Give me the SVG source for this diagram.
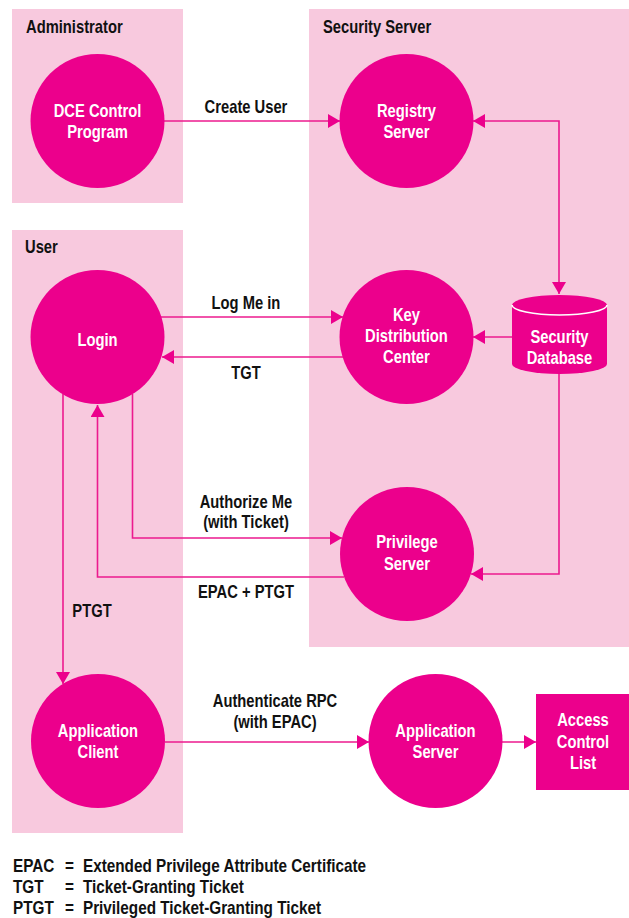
<svg xmlns="http://www.w3.org/2000/svg" width="629" height="918" viewBox="0 0 629 918">
  <style>
    .zone { fill: #F8C9DE; }
    .node { fill: #EC008C; }
    text { font-family: "Liberation Sans", Arial, sans-serif; font-weight: bold; font-size: 18px; }
    .zlabel { fill: #111; }
    .nlabel { fill: #fff; text-anchor: middle; }
    .elabel { fill: #111; text-anchor: middle; }
    .legend text { fill: #111; }
    .conn { fill: none; stroke: #EC1A8E; stroke-width: 1.6; }
  </style>
  <defs>
    <marker id="ah" viewBox="0 0 12 14" refX="12" refY="7" markerWidth="12" markerHeight="14" markerUnits="userSpaceOnUse" orient="auto-start-reverse">
      <path d="M0,0 L12,7 L0,14 z" fill="#EC008C"/>
    </marker>
  </defs>

  <!-- background -->
  <rect width="629" height="918" fill="#fff"/>

  <!-- zones (text groups are narrowed horizontally to a condensed face; x values are pre-divided by the scale) -->
  <g id="zone-administrator">
    <rect class="zone" x="12" y="9" width="171" height="194"/>
    <g transform="scale(0.82 1)"><text class="zlabel" x="31.7" y="33">Administrator</text></g>
  </g>
  <g id="zone-security-server">
    <rect class="zone" x="309" y="9" width="320" height="638"/>
    <g transform="scale(0.82 1)"><text class="zlabel" x="393.9" y="33">Security Server</text></g>
  </g>
  <g id="zone-user">
    <rect class="zone" x="12" y="230" width="171" height="603"/>
    <g transform="scale(0.82 1)"><text class="zlabel" x="30.5" y="253">User</text></g>
  </g>

  <!-- connectors -->
  <g id="connectors">
    <path class="conn" d="M164,121 H340" marker-end="url(#ah)"/>
    <path class="conn" d="M473,121 H559 V294" marker-start="url(#ah)" marker-end="url(#ah)"/>
    <path class="conn" d="M161,317 H343" marker-end="url(#ah)"/>
    <path class="conn" d="M343,357 H162" marker-end="url(#ah)"/>
    <path class="conn" d="M512,337 H473" marker-end="url(#ah)"/>
    <path class="conn" d="M559,374 V574 H471" marker-end="url(#ah)"/>
    <path class="conn" d="M132.5,394 V538 H342" marker-end="url(#ah)"/>
    <path class="conn" d="M344,577 H97.5 V405" marker-end="url(#ah)"/>
    <path class="conn" d="M63,394 V684" marker-end="url(#ah)"/>
    <path class="conn" d="M165,742 H369" marker-end="url(#ah)"/>
    <path class="conn" d="M502,742 H536" marker-end="url(#ah)"/>

    <g transform="scale(0.82 1)">
      <text class="elabel" x="300" y="113">Create User</text>
      <text class="elabel" x="300" y="309">Log Me in</text>
      <text class="elabel" x="300" y="379">TGT</text>
      <text class="elabel" x="300" y="508">Authorize Me</text>
      <text class="elabel" x="300" y="528">(with Ticket)</text>
      <text class="elabel" x="300" y="598">EPAC + PTGT</text>
      <text class="elabel" x="112.2" y="617">PTGT</text>
      <text class="elabel" x="335.4" y="707">Authenticate RPC</text>
      <text class="elabel" x="335.4" y="728">(with EPAC)</text>
    </g>
  </g>

  <!-- nodes -->
  <g id="dce-control-program">
    <circle class="node" cx="97.5" cy="121" r="67"/>
    <g transform="scale(0.82 1)">
      <text class="nlabel" x="118.9" y="117">DCE Control</text>
      <text class="nlabel" x="118.9" y="138">Program</text>
    </g>
  </g>
  <g id="registry-server">
    <circle class="node" cx="406.5" cy="121" r="67"/>
    <g transform="scale(0.82 1)">
      <text class="nlabel" x="495.7" y="117">Registry</text>
      <text class="nlabel" x="495.7" y="138">Server</text>
    </g>
  </g>
  <g id="login">
    <circle class="node" cx="97.5" cy="337" r="67"/>
    <g transform="scale(0.82 1)">
      <text class="nlabel" x="118.9" y="346">Login</text>
    </g>
  </g>
  <g id="key-distribution-center">
    <circle class="node" cx="406.5" cy="337" r="67"/>
    <g transform="scale(0.82 1)">
      <text class="nlabel" x="495.7" y="321">Key</text>
      <text class="nlabel" x="495.7" y="342">Distribution</text>
      <text class="nlabel" x="495.7" y="363">Center</text>
    </g>
  </g>
  <g id="security-database">
    <path class="node" d="M512,305 A47.5,10 0 0 1 607,305 V364 A47.5,10 0 0 1 512,364 Z"/>
    <path d="M512,305 A47.5,10 0 0 0 607,305" fill="none" stroke="#fff" stroke-width="1.6"/>
    <g transform="scale(0.82 1)">
      <text class="nlabel" x="682.3" y="343">Security</text>
      <text class="nlabel" x="682.3" y="364">Database</text>
    </g>
  </g>
  <g id="privilege-server">
    <circle class="node" cx="407" cy="554" r="67"/>
    <g transform="scale(0.82 1)">
      <text class="nlabel" x="496.3" y="548">Privilege</text>
      <text class="nlabel" x="496.3" y="570">Server</text>
    </g>
  </g>
  <g id="application-client">
    <circle class="node" cx="98" cy="741" r="67"/>
    <g transform="scale(0.82 1)">
      <text class="nlabel" x="119.5" y="737">Application</text>
      <text class="nlabel" x="119.5" y="758">Client</text>
    </g>
  </g>
  <g id="application-server">
    <circle class="node" cx="435.5" cy="741" r="67"/>
    <g transform="scale(0.82 1)">
      <text class="nlabel" x="531.1" y="737">Application</text>
      <text class="nlabel" x="531.1" y="758">Server</text>
    </g>
  </g>
  <g id="access-control-list">
    <rect class="node" x="536" y="694" width="93" height="96"/>
    <g transform="scale(0.82 1)">
      <text class="nlabel" x="711" y="726">Access</text>
      <text class="nlabel" x="711" y="748">Control</text>
      <text class="nlabel" x="711" y="769">List</text>
    </g>
  </g>

  <!-- legend -->
  <g id="legend" class="legend">
    <g transform="scale(0.85 1)">
      <text x="15.3" y="872">EPAC</text>
      <text x="76.5" y="872">=</text>
      <text x="97.6" y="872">Extended Privilege Attribute Certificate</text>
      <text x="15.3" y="893">TGT</text>
      <text x="76.5" y="893">=</text>
      <text x="97.6" y="893">Ticket-Granting Ticket</text>
      <text x="15.3" y="914">PTGT</text>
      <text x="76.5" y="914">=</text>
      <text x="97.6" y="914">Privileged Ticket-Granting Ticket</text>
    </g>
  </g>
</svg>
